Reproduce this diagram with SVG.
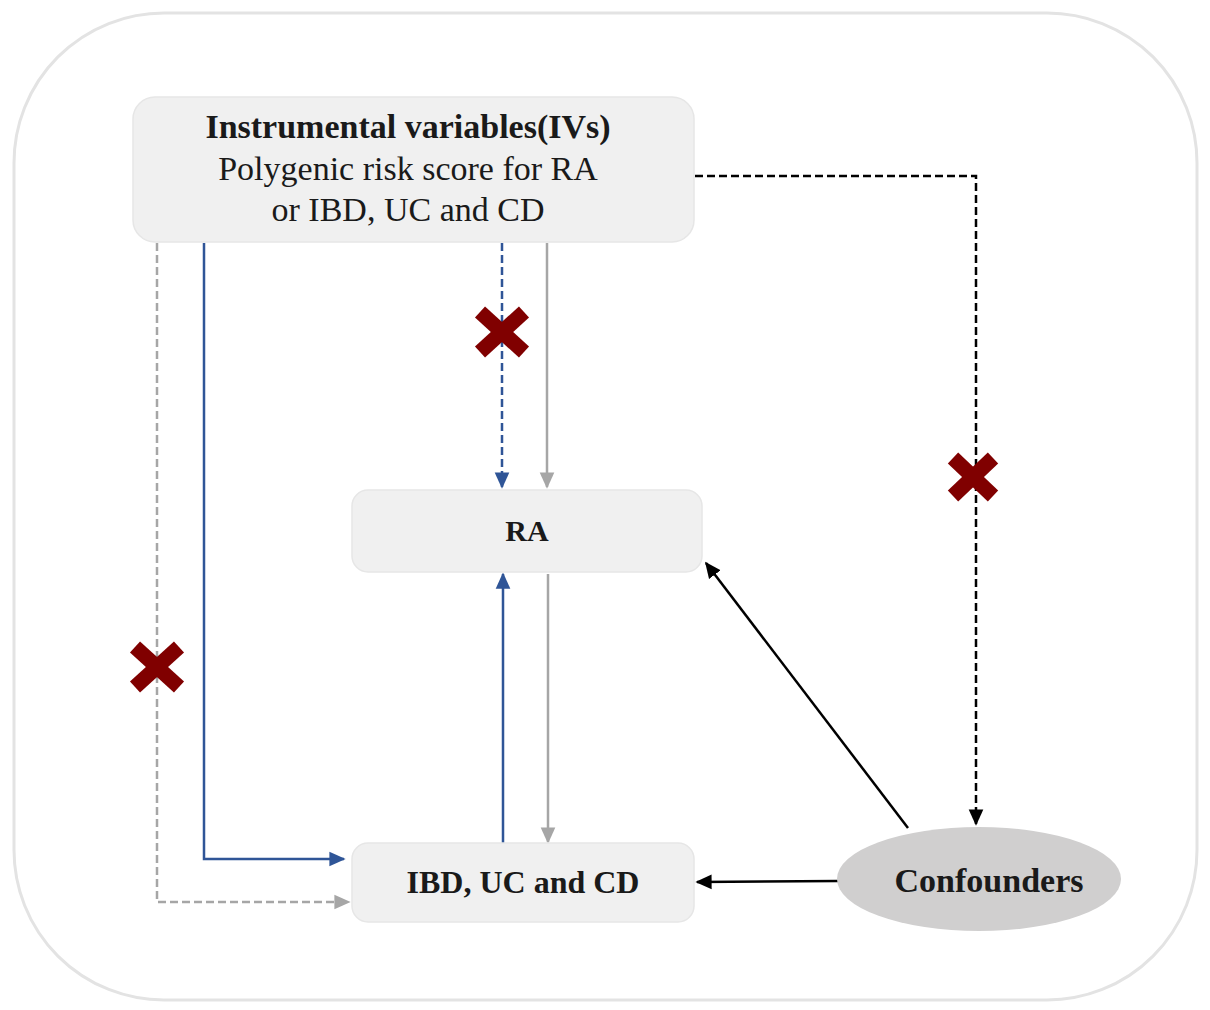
<svg xmlns="http://www.w3.org/2000/svg" width="1210" height="1010" viewBox="0 0 1210 1010">
<defs>
<style>
.box{fill:#f0f0f0;stroke:#e6e6e6;stroke-width:1.5}
.t{fill:#1a1a1a;text-anchor:middle}
.blue{stroke:#2f5597;stroke-width:2.5;fill:none}
.gray{stroke:#a6a6a6;stroke-width:2.5;fill:none}
.blk{stroke:#000;stroke-width:2.5;fill:none}
.dash{stroke-dasharray:8 4}
.x{stroke:#800000;stroke-width:15;stroke-linecap:butt}
</style>
<marker id="aBlue" viewBox="0 0 10 10" refX="9" refY="5" markerWidth="6.5" markerHeight="6.5" orient="auto" markerUnits="strokeWidth"><path d="M0,0.5 L10,5 L0,9.5 z" fill="#2f5597"/></marker>
<marker id="aGray" viewBox="0 0 10 10" refX="9" refY="5" markerWidth="6.5" markerHeight="6.5" orient="auto" markerUnits="strokeWidth"><path d="M0,0.5 L10,5 L0,9.5 z" fill="#a6a6a6"/></marker>
<marker id="aBlk" viewBox="0 0 10 10" refX="9" refY="5" markerWidth="6.5" markerHeight="6.5" orient="auto" markerUnits="strokeWidth"><path d="M0,0.5 L10,5 L0,9.5 z" fill="#000"/></marker>
</defs>
<rect x="0" y="0" width="1210" height="1010" fill="#fff"/>
<rect id="frame" x="14" y="13" width="1183" height="987" rx="150" ry="150" fill="#fff" stroke="#e3e3e3" stroke-width="3"/>
<g id="connectors">
<path class="gray dash" d="M157,243 V902 H349" marker-end="url(#aGray)"/>
<path class="blue" d="M204,243 V859 H344" marker-end="url(#aBlue)"/>
<path class="blue dash" d="M502,243 V487" marker-end="url(#aBlue)"/>
<path class="gray" d="M547,243 V487" marker-end="url(#aGray)"/>
<path class="blue" d="M503,843 V574" marker-end="url(#aBlue)"/>
<path class="gray" d="M548,574 V842" marker-end="url(#aGray)"/>
<path class="blk dash" d="M695,176 H976 V824" marker-end="url(#aBlk)"/>
<path class="blk" d="M908,828 L706,563" marker-end="url(#aBlk)"/>
<path class="blk" d="M838,881 L697,882" marker-end="url(#aBlk)"/>
</g>
<g id="crosses">
<g transform="translate(502,332)"><line class="x" x1="-22" y1="-20" x2="22" y2="20"/><line class="x" x1="-22" y1="20" x2="22" y2="-20"/></g>
<g transform="translate(973,477)"><line class="x" x1="-20" y1="-19" x2="20" y2="19"/><line class="x" x1="-20" y1="19" x2="20" y2="-19"/></g>
<g transform="translate(157,667)"><line class="x" x1="-22" y1="-20" x2="22" y2="20"/><line class="x" x1="-22" y1="20" x2="22" y2="-20"/></g>
</g>
<g id="node-ivs" font-family="Liberation Serif, Times New Roman, serif">
<rect class="box" x="133" y="97" width="561" height="145" rx="22"/>
<text class="t" x="408" y="138" font-size="34" font-weight="bold">Instrumental variables(IVs)</text>
<text class="t" x="408" y="180" font-size="34">Polygenic risk score for RA</text>
<text class="t" x="408" y="221" font-size="34">or IBD, UC and CD</text>
</g>
<g id="node-ra" font-family="Liberation Serif, Times New Roman, serif">
<rect class="box" x="352" y="490" width="350" height="82" rx="16"/>
<text class="t" x="527" y="541" font-size="30" font-weight="bold">RA</text>
</g>
<g id="node-ibd" font-family="Liberation Serif, Times New Roman, serif">
<rect class="box" x="352" y="843" width="342" height="79" rx="16"/>
<text class="t" x="523" y="893" font-size="32" font-weight="bold">IBD, UC and CD</text>
</g>
<g id="node-confounders" font-family="Liberation Serif, Times New Roman, serif">
<ellipse cx="979" cy="879" rx="142" ry="52" fill="#d0cfcf"/>
<text class="t" x="989" y="892" font-size="34" font-weight="bold">Confounders</text>
</g>
</svg>
